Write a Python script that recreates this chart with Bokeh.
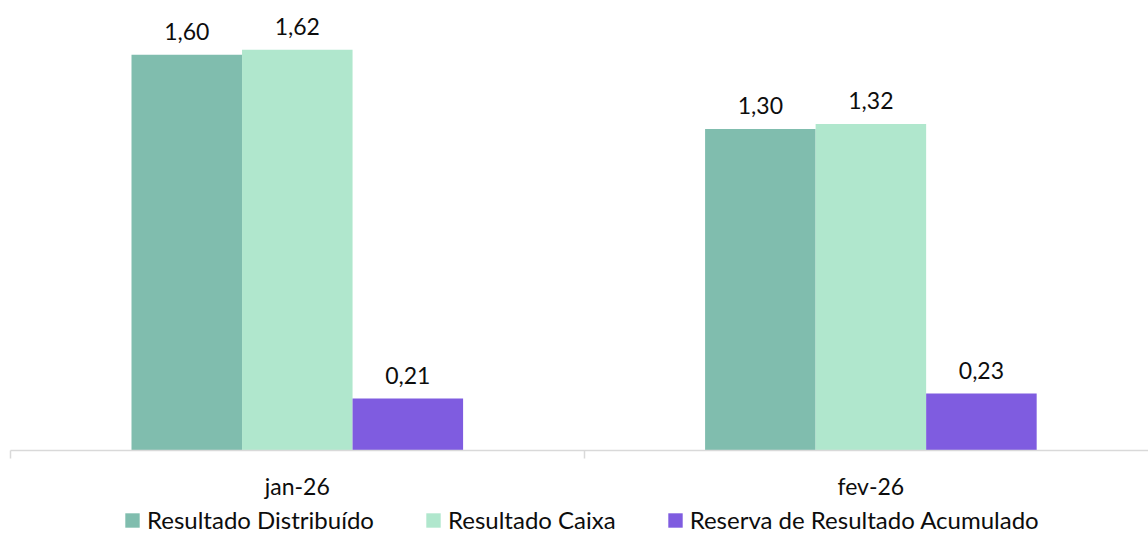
from bokeh.plotting import figure
from bokeh.layouts import column
from bokeh.models import Range1d, LinearAxis, FixedTicker, Legend, LegendItem, ColumnDataSource
from bokeh.core.properties import value
from bokeh.embed import file_html
from bokeh.resources import INLINE

# ---- data ----
categories = ["jan-26", "fev-26"]
series_names = ["Resultado Distribuído", "Resultado Caixa", "Reserva de Resultado Acumulado"]
resultado_distribuido = [1.60, 1.30]
resultado_caixa = [1.62, 1.32]
reserva_resultado = [0.21, 0.23]
series_values = [resultado_distribuido, resultado_caixa, reserva_resultado]

# ---- style ----
colors = ["#80BDAE", "#B0E7CD", "#7F5CE0"]
text_color = "#0D0D0D"
axis_color = "#D9D9D9"
FONT = "Lato"
bar_w = 0.1927
offsets = [-bar_w, 0.0, bar_w]

centers = [i + 0.5 for i in range(len(categories))]
boundaries = [float(i) for i in range(len(categories) + 1)]

# ---- main chart ----
p = figure(width=1148, height=502,
           x_range=Range1d(0, 1.984), y_range=Range1d(0, 1.819),
           output_backend="svg", toolbar_location=None,
           x_axis_location=None, y_axis_location=None,
           min_border_left=10, min_border_right=0, min_border_top=0, min_border_bottom=0)
p.outline_line_color = None
p.grid.grid_line_color = None
p.background_fill_color = "white"
p.border_fill_color = "white"

sources = []
for j, vals in enumerate(series_values):
    src = ColumnDataSource(dict(
        x=[c + offsets[j] for c in centers],
        top=vals,
        label=[f"{v:.2f}".replace(".", ",") for v in vals],
    ))
    sources.append(src)
    p.vbar(x="x", top="top", bottom=0, width=bar_w, source=src,
           fill_color=colors[j], line_color=None)
    p.text(x="x", y="top", text="label", source=src,
           text_align="center", text_baseline="middle", y_offset=-23,
           text_font=value(FONT), text_font_size="23px", text_color=text_color)

xaxis = LinearAxis(
    ticker=FixedTicker(ticks=centers, minor_ticks=boundaries),
    major_label_overrides={c: cat for c, cat in zip(centers, categories)},
    axis_line_color=axis_color, axis_line_width=1.5,
    major_tick_line_color=None, major_tick_out=0, major_tick_in=0,
    minor_tick_line_color=axis_color, minor_tick_line_width=1.5,
    minor_tick_out=8, minor_tick_in=0,
    major_label_standoff=13,
    major_label_text_font=FONT, major_label_text_font_size="23px",
    major_label_text_color=text_color,
)
p.add_layout(xaxis, "below")

# ---- legend strip (its glyphs use the same data, kept outside the visible range) ----
q = figure(width=1148, height=32, x_range=Range1d(-3, -2), y_range=Range1d(0, 2),
           output_backend="svg", toolbar_location=None,
           x_axis_location=None, y_axis_location=None,
           min_border_left=10, min_border_right=0, min_border_top=0, min_border_bottom=0)
q.outline_line_color = None
q.grid.grid_line_color = None
q.background_fill_color = "white"
q.border_fill_color = "white"

legend_renderers = [q.vbar(x="x", top="top", bottom=0, width=bar_w, source=s,
                           fill_color=c, line_color=None)
                    for s, c in zip(sources, colors)]
legend = Legend(
    items=[LegendItem(label=n, renderers=[r]) for n, r in zip(series_names, legend_renderers)],
    orientation="horizontal", location=(113, 0),
    glyph_width=18, glyph_height=18, label_standoff=6, spacing=50,
    padding=0, margin=0, border_line_color=None, background_fill_alpha=0,
    label_text_font=FONT, label_text_font_size="24px", label_text_color=text_color,
)
q.add_layout(legend)

layout = column(p, q, spacing=0)
open("out.html", "w").write(file_html(layout, INLINE))
